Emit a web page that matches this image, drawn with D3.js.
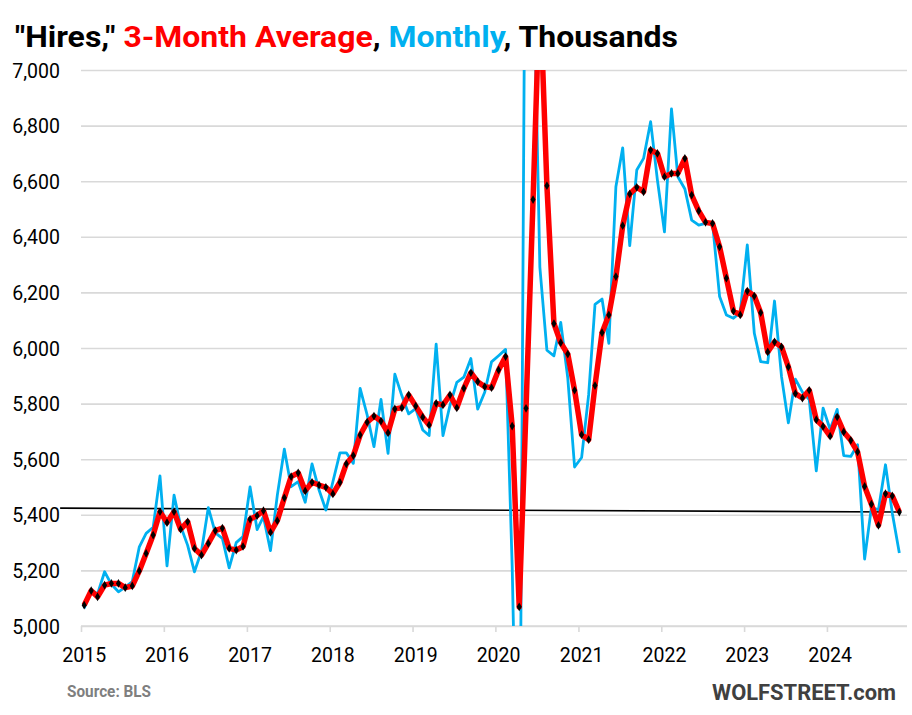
<!DOCTYPE html>
<html>
<head>
<meta charset="utf-8">
<script src="https://cdn.jsdelivr.net/npm/d3@7/dist/d3.min.js"></script>
<style>
  html, body { margin: 0; padding: 0; background: #fff; }
  svg { display: block; }
  text { font-family: Roboto, "Liberation Sans", Arial, sans-serif; }
</style>
</head>
<body>
<svg id="chart" width="912" height="715"></svg>
<script>
// ---------- DATA ----------
const startYear = 2015;
const yearLabels = ["2015","2016","2017","2018","2019","2020","2021","2022","2023","2024"];
const yTicks = [5000, 5200, 5400, 5600, 5800, 6000, 6200, 6400, 6600, 6800, 7000];

// Monthly hires, thousands (Jan 2015 - Nov 2024)
const monthly = [
  5064, 5130, 5115, 5195, 5150, 5123, 5140, 5160, 5285, 5333, 5355, 5540,
  5216, 5471, 5360, 5290, 5195, 5270, 5426, 5335, 5315, 5209, 5300, 5322,
  5500, 5347, 5393, 5271, 5470, 5636, 5501, 5519, 5445, 5583, 5489, 5417,
  5519, 5623, 5623, 5585, 5855, 5759, 5645, 5815, 5621, 5906, 5828, 5763,
  5782, 5705, 5685, 6014, 5685, 5794, 5876, 5895, 5962, 5780, 5841, 5950,
  5972, 5995, 5216, 3996, 8137, 7469, 6291, 5992, 5972, 6092, 5892, 5572,
  5606, 5832, 6157, 6176, 6017, 6580, 6720, 6368, 6640, 6682, 6814, 6604,
  6418, 6860, 6616, 6572, 6460, 6442, 6448, 6448, 6185, 6119, 6107, 6128,
  6371, 6053, 5951, 5947, 6169, 5896, 5731, 5888, 5841, 5815, 5558, 5784,
  5707, 5779, 5613, 5610, 5652, 5241, 5427, 5418, 5580, 5406, 5263
];

// 3-month average, thousands
const avg3 = [
  5075, 5127, 5105, 5147, 5153, 5153, 5138, 5144, 5198, 5261, 5327, 5411,
  5372, 5411, 5348, 5375, 5279, 5255, 5297, 5343, 5352, 5279, 5273, 5286,
  5384, 5397, 5415, 5337, 5379, 5461, 5537, 5551, 5486, 5517, 5507, 5499,
  5475, 5517, 5583, 5613, 5687, 5733, 5755, 5737, 5695, 5781, 5785, 5831,
  5791, 5751, 5723, 5801, 5795, 5831, 5785, 5855, 5911, 5879, 5861, 5857,
  5921, 5969, 5719, 5069, 5783, 6534, 7300, 6584, 6088, 6019, 5978, 5848,
  5688, 5670, 5865, 6055, 6119, 6257, 6440, 6554, 6578, 6562, 6712, 6700,
  6616, 6628, 6628, 6682, 6550, 6493, 6452, 6448, 6364, 6251, 6133, 6119,
  6205, 6187, 6127, 5986, 6022, 6004, 5932, 5836, 5820, 5848, 5742, 5718,
  5683, 5752, 5698, 5668, 5626, 5502, 5438, 5362, 5476, 5468, 5410
];

// hand-drawn reference level line: [date, value]
const levelLine = [["2014-10-01", 5424], ["2024-11-15", 5410]];

// ---------- LAYOUT ----------
const svg = d3.select("#chart");
const plot = { left: 81, right: 907, top: 70, bottom: 626 };

const monthDate = i => new Date(startYear + Math.floor(i / 12), i % 12, 15);

const x = d3.scaleTime()
  .domain([new Date(2015, 0, 1), new Date(2025, 0, 1)])
  .range([81, 910]);
const y = d3.scaleLinear().domain([5000, 7000]).range([plot.bottom, plot.top]);

// clip
svg.append("defs").append("clipPath").attr("id", "clip")
  .append("rect")
  .attr("x", plot.left).attr("y", plot.top)
  .attr("width", plot.right - plot.left).attr("height", plot.bottom - plot.top);

// gridlines
const yAxis = d3.axisLeft(y).tickValues(yTicks)
  .tickSize(-(plot.right - plot.left))
  .tickFormat(d3.format(","));
const gy = svg.append("g").attr("transform", `translate(${plot.left},0)`).call(yAxis);
gy.select(".domain").remove();
gy.selectAll(".tick line").attr("stroke", "#D9D9D9").attr("stroke-width", 1.6);
gy.selectAll(".tick text")
  .attr("x", -21).attr("dy", "0.36em")
  .attr("fill", "#000").style("font-size", "19.5px");

// x axis
const yearTicks = yearLabels.map(s => new Date(+s, 0, 1));
const xAxis = d3.axisBottom(x).tickValues(yearTicks).tickSize(6).tickFormat("");
const gx = svg.append("g").attr("transform", `translate(0,${plot.bottom})`).call(xAxis);
gx.select(".domain").attr("stroke", "#D9D9D9").attr("stroke-width", 1.6)
  .attr("d", `M${plot.left},0H${plot.right}`);
gx.selectAll(".tick line").attr("stroke", "#D9D9D9").attr("stroke-width", 1.6);

svg.append("g").selectAll("text").data(yearLabels).join("text")
  .attr("x", d => x(new Date(+d, 0, 15)))
  .attr("y", plot.bottom + 36)
  .attr("text-anchor", "middle")
  .attr("fill", "#000")
  .style("font-size", "19.5px")
  .text(d => d);

// level line
svg.append("line")
  .attr("x1", x(new Date(levelLine[0][0]))).attr("y1", y(levelLine[0][1]))
  .attr("x2", x(new Date(levelLine[1][0]))).attr("y2", y(levelLine[1][1]))
  .attr("stroke", "#000").attr("stroke-width", 1.6);

// series
const g = svg.append("g").attr("clip-path", "url(#clip)");
const line = d3.line().x((d, i) => x(monthDate(i))).y(d => y(d));

g.append("path").datum(monthly)
  .attr("d", line).attr("fill", "none")
  .attr("stroke", "#00B0F0").attr("stroke-width", 2.8)
  .attr("stroke-linejoin", "round");

g.append("path").datum(avg3)
  .attr("d", line).attr("fill", "none")
  .attr("stroke", "#FF0000").attr("stroke-width", 5.5)
  .attr("stroke-linejoin", "round");

g.selectAll("path.dot").data(avg3).join("path")
  .attr("class", "dot")
  .attr("d", d3.symbol().type(d3.symbolDiamond).size(22))
  .attr("transform", (d, i) => `translate(${x(monthDate(i))},${y(d)})`)
  .attr("fill", "#000");

// title
const title = svg.append("text")
  .attr("x", 15).attr("y", 47)
  .style("font-size", "30px").style("font-weight", "bold")
  .attr("textLength", 663).attr("lengthAdjust", "spacingAndGlyphs");
title.append("tspan").attr("fill", "#000").text("\"Hires,\" ");
title.append("tspan").attr("fill", "#FF0000").text("3-Month Average");
title.append("tspan").attr("fill", "#000").text(", ");
title.append("tspan").attr("fill", "#00B0F0").text("Monthly");
title.append("tspan").attr("fill", "#000").text(", Thousands");

// footer
svg.append("text")
  .attr("x", 67).attr("y", 697)
  .style("font-size", "16px").style("font-weight", "bold")
  .attr("fill", "#7F7F7F")
  .attr("textLength", 84).attr("lengthAdjust", "spacingAndGlyphs")
  .text("Source: BLS");

svg.append("text")
  .attr("x", 896).attr("y", 700)
  .attr("text-anchor", "end")
  .style("font-size", "22px").style("font-weight", "bold")
  .attr("fill", "#404040")
  .attr("textLength", 184).attr("lengthAdjust", "spacingAndGlyphs")
  .text("WOLFSTREET.com");
</script>
</body>
</html>
